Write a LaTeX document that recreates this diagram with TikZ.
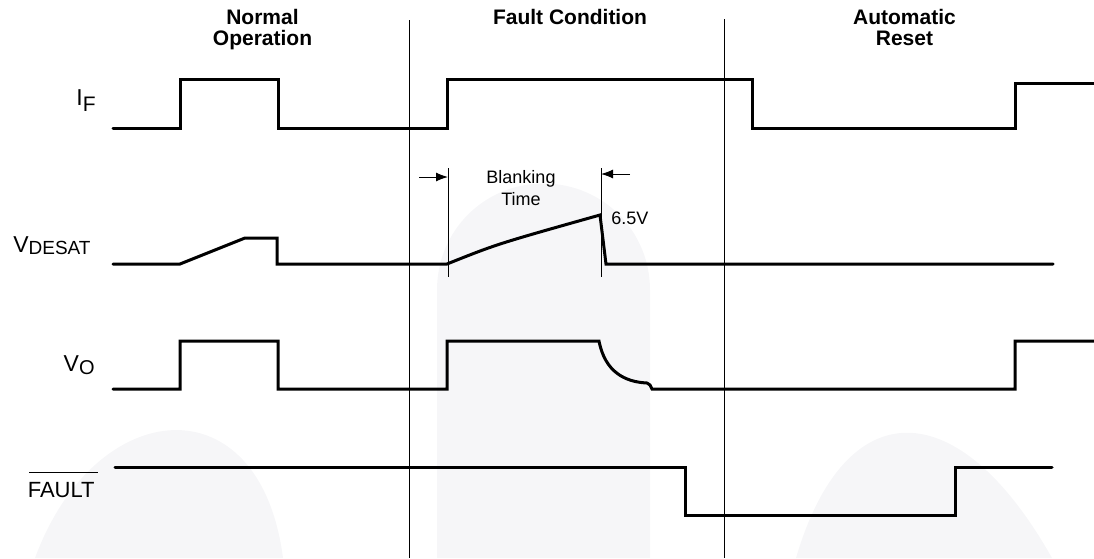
\documentclass[tikz,border=0pt]{standalone}
\usepackage{fontspec}
\setmainfont{Liberation Sans}
\usetikzlibrary{arrows.meta}
\definecolor{bgfill}{RGB}{246,246,248}

\begin{document}
\begin{tikzpicture}[x=0.5pt,y=-0.5pt,
  wave/.style={line width=1.5pt,line join=miter,line cap=round},
  thinline/.style={line width=0.5pt},
  lbl/.style={anchor=base east,inner sep=0pt,font=\fontsize{11.5}{13}\selectfont},
  phase/.style={anchor=base,inner sep=0pt,align=center,font=\bfseries\fontsize{10.5}{10.5}\selectfont}]
\useasboundingbox (0,0) rectangle (1094,558);
\fill[bgfill] (35,558) .. controls (95,395) and (260,380) .. (283,558) -- cycle;
\fill[bgfill] (437,558) -- (437,290) .. controls (437,231) and (484,183.5) .. (543.5,183.5)
  .. controls (603,183.5) and (650,231) .. (650,290) -- (650,558) -- cycle;
\fill[bgfill] (796,558) .. controls (845,391) and (958,391) .. (1052,558) -- cycle;
\draw[thinline] (409,20) -- (409,558);
\draw[thinline] (724,19) -- (724,558);
\node[phase] (hnormal) at (262.5,45) {Normal\\Operation};
\node[phase] (hfault) at (570,24) {Fault Condition};
\node[phase] (hreset) at (904.5,45) {Automatic\\Reset};
\node[lbl] (lif) at (96,105) {I\raisebox{-3pt}{\fontsize{10.5}{11}\selectfont F}};
\node[lbl] (lvdesat) at (91,252) {V\raisebox{-1pt}{\fontsize{9.5}{10}\selectfont DESAT}};
\node[lbl] (lvo) at (95,371) {V\raisebox{-1.5pt}{\fontsize{10}{10}\selectfont O}};
\node[lbl,font=\fontsize{11}{12}\selectfont] (lfault) at (95,497) {FAULT};
\draw[line width=0.6pt] ([xshift=1pt,yshift=4.5pt]lfault.north west) -- ([xshift=1.5pt,yshift=4.5pt]lfault.north east);
\draw[wave] (113,128) -- (180,128) -- (180,79) -- (278,79) -- (278,128) -- (447,128) -- (447,79)
  -- (752,79) -- (752,128) -- (1015,128) -- (1015,83) -- (1094,83);
\draw[wave] (113,264) -- (180,264) -- (245,238) -- (277,238) -- (277,264) -- (447,264)
  .. controls (497,244) .. (600,215) -- (606,264) -- (1053,264);
\draw[wave] (113,389) -- (180,389) -- (180,341) -- (278,341) -- (278,389) -- (447,389) -- (447,341)
  -- (599,341) .. controls (605,372) and (625,382) .. (647,383) -- (650,385) -- (652,389)
  -- (1015,389) -- (1015,341) -- (1094,341);
\draw[wave] (115,467) -- (685,467) -- (685,515) -- (955,515) -- (955,467) -- (1052,467);
\coordinate (bs) at (448,168);
\coordinate (be) at (601,168);
\coordinate (as) at (419,177);
\coordinate (ae) at (630,174);
\draw[thinline] (bs) -- (448,277);
\draw[thinline] (be) -- (601,277);
\draw[thinline,-{Latex[length=6pt,width=4.5pt]}] (as) -- (as -| bs);
\draw[thinline,-{Latex[length=6pt,width=4.5pt]}] (ae) -- (ae -| be);
\node[anchor=base,inner sep=0pt,align=center,font=\fontsize{9}{11}\selectfont] (blank) at (521,205) {Blanking\\Time};
\node[anchor=base west,inner sep=0pt,font=\fontsize{9}{10}\selectfont] (vpk) at (611,224) {6.5V};
\end{tikzpicture}
\end{document}
